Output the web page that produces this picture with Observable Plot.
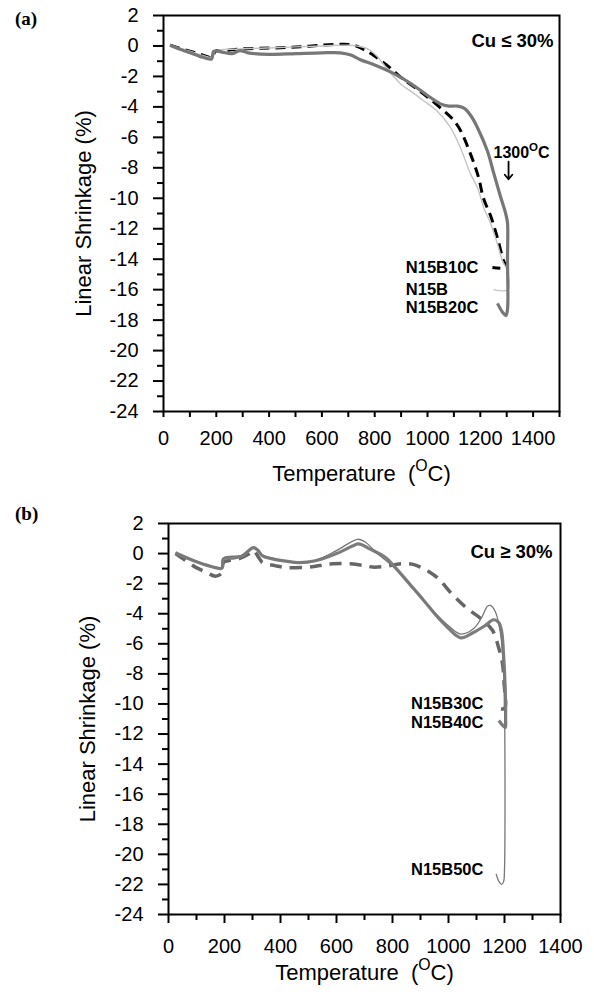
<!DOCTYPE html>
<html><head><meta charset="utf-8">
<script src="https://cdn.jsdelivr.net/npm/d3@7"></script>
<script src="https://cdn.jsdelivr.net/npm/@observablehq/plot@0.6"></script>
<style>
body{margin:0;background:#fff;}
#wrap{position:relative;width:594px;height:1001px;background:#fff;}
.panel{position:absolute;left:0;}
.panel text{font-family:"Liberation Sans",Arial,sans-serif;}
.tag{position:absolute;left:15px;font-family:"Liberation Serif","Times New Roman",serif;font-weight:bold;font-size:19px;line-height:1;}
</style></head><body><div id="wrap"></div>
<script>
// ---------- data: panel (a) Cu <= 30% ----------
const seriesA = ["N15B10C", "N15B", "N15B20C"];
const A_N15B10C = [[25,0.05],[60,-0.15],[100,-0.35],[140,-0.55],[175,-0.75],[188,-0.75],[195,-0.35],[230,-0.3],[290,-0.2],[360,-0.15],[443,-0.12],[520,-0.05],[600,0.05],[660,0.1],[700,0.1],[730,0.0],[760,-0.25],[790,-0.55],[822,-0.95],[860,-1.45],[898,-2.05],[950,-2.7],[1000,-3.35],[1061,-4.25],[1095,-4.8],[1125,-5.55],[1163,-7.1],[1193,-8.6],[1212,-10.0],[1240,-11.2],[1265,-12.6],[1288,-14.1],[1300,-14.55],[1246,-14.55]];
const A_N15B = [[25,0.05],[100,-0.35],[175,-0.75],[188,-0.75],[195,-0.35],[290,-0.2],[443,-0.1],[600,0.0],[700,0.05],[760,-0.1],[784,-0.3],[810,-0.7],[840,-1.35],[871,-2.0],[905,-2.6],[947,-3.1],[985,-3.6],[1038,-4.3],[1087,-5.35],[1125,-6.7],[1163,-8.4],[1189,-9.3],[1215,-10.7],[1239,-11.65],[1265,-13.0],[1284,-14.1],[1303,-14.8],[1303,-16.0],[1250,-16.0]];
const A_N15B20C = [[25,0.05],[60,-0.2],[100,-0.45],[140,-0.7],[170,-0.85],[182,-0.85],[186,-0.6],[190,-0.35],[220,-0.4],[260,-0.5],[290,-0.3],[320,-0.45],[400,-0.55],[500,-0.5],[600,-0.45],[670,-0.45],[710,-0.6],[746,-0.9],[800,-1.25],[871,-1.8],[940,-2.5],[1000,-3.25],[1049,-3.8],[1080,-3.95],[1114,-3.95],[1140,-4.1],[1165,-4.6],[1189,-5.35],[1227,-6.9],[1250,-8.3],[1275,-9.8],[1296,-11.0],[1303,-11.6],[1303,-14.0],[1303,-17.3],[1297,-17.7],[1285,-17.5],[1265,-16.9]];

// ---------- data: panel (b) Cu >= 30% ----------
const seriesB = ["N15B30C", "N15B40C", "N15B50C"];
const B_N15B30C = [[25,0],[60,-0.45],[96,-0.9],[130,-1.2],[168,-1.5],[190,-1.3],[196,-0.6],[220,-0.45],[250,-0.35],[290,0.0],[304,0.2],[320,-0.2],[336,-0.6],[380,-0.8],[418,-0.92],[490,-0.92],[540,-0.8],[586,-0.68],[650,-0.68],[700,-0.8],[729,-0.9],[775,-0.85],[829,-0.68],[870,-0.7],[900,-0.9],[930,-1.2],[960,-1.6],[1018,-2.8],[1068,-3.67],[1114,-4.3],[1157,-5.1],[1179,-6.25],[1193,-7.35],[1198,-8.5],[1200,-10.3],[1180,-10.3]];
const B_N15B40C = [[25,0.05],[107,-0.6],[186,-1.0],[192,-0.95],[196,-0.35],[230,-0.3],[264,-0.15],[290,0.25],[304,0.4],[320,0.2],[336,-0.15],[371,-0.35],[420,-0.5],[464,-0.6],[525,-0.48],[600,0.0],[657,0.5],[679,0.65],[720,0.3],[775,-0.26],[804,-0.8],[860,-2.0],[911,-3.1],[960,-4.2],[996,-4.9],[1043,-5.6],[1089,-5.25],[1130,-4.8],[1161,-4.4],[1180,-4.6],[1190,-5.2],[1196,-6.5],[1202,-8.7],[1204,-11.0],[1203,-11.55],[1195,-11.45],[1180,-11.1]];
const B_N15B50C = [[25,0.05],[107,-0.55],[186,-0.95],[192,-0.9],[196,-0.3],[264,-0.1],[304,0.45],[336,-0.1],[371,-0.3],[464,-0.6],[525,-0.45],[600,0.2],[675,0.95],[700,0.8],[746,0.0],[804,-0.9],[860,-2.0],[911,-3.1],[960,-4.1],[1000,-4.8],[1043,-5.35],[1089,-5.0],[1120,-4.2],[1139,-3.5],[1150,-3.45],[1168,-3.9],[1186,-5.35],[1196,-7.6],[1200,-10.0],[1200,-21.0],[1197,-21.8],[1190,-22.0],[1180,-21.8],[1170,-21.3]];

// ---------- ticks ----------
const yMajor = [-24,-22,-20,-18,-16,-14,-12,-10,-8,-6,-4,-2,0,2];
const yMinor = [-23,-21,-19,-17,-15,-13,-11,-9,-7,-5,-3,-1,1];
const xMajor = [0,200,400,600,800,1000,1200,1400];
const xMinorA = [100,300,500,700,900,1100,1300,1500];
const xMinorB = [100,300,500,700,900,1100,1300];

const FONT = "Liberation Sans, Arial, sans-serif";

function sup(svg, fs) {
  d3.select(svg).selectAll("text").each(function () {
    const t = this.textContent;
    if (!t.includes("^")) return;
    const [a, b, c] = t.split("^");
    const sel = d3.select(this);
    sel.text(null);
    sel.append("tspan").text(a);
    sel.append("tspan").attr("dy", -0.42 * fs).attr("font-size", 0.72 * fs).text(b);
    sel.append("tspan").attr("dy", 0.42 * fs).text(c);
  });
}

function panel(cfg) {
  const X = d => d[0], Y = d => d[1];
  const marks = [
    Plot.axisY(yMajor, {tickSize: 10, tickPadding: 15, tickFormat: d => String(d), label: null, strokeWidth: 2, fontSize: 20}),
    Plot.axisY(yMinor, {tickSize: 6, text: null, label: null, strokeWidth: 2}),
    Plot.axisX(xMajor, {tickSize: cfg.xTick, tickPadding: cfg.xPad, tickFormat: d => String(d), label: null, strokeWidth: 2, fontSize: 20}),
    Plot.axisX(cfg.xMinor, {tickSize: cfg.xTickMinor, text: null, label: null, strokeWidth: 2}),
    Plot.frame({stroke: "#000", strokeWidth: 2}),
    Plot.text(["Linear Shrinkage (%)"], {text: d => d, frameAnchor: "left", dx: cfg.yLabelDx, rotate: -90, textAnchor: "middle", lineAnchor: "middle", fontSize: 22}),
    Plot.text(["Temperature\u00a0 (^O^C)"], {text: d => d, frameAnchor: "bottom", dy: cfg.xLabelDy, textAnchor: "middle", lineAnchor: "middle", fontSize: 22}),
  ];
  for (const s of cfg.series) {
    marks.push(Plot.line(s.data, {x: X, y: Y, stroke: s.stroke, strokeWidth: s.width, strokeDasharray: s.dash, curve: "catmull-rom", strokeLinecap: "butt"}));
  }
  for (const s of cfg.series) {
    const last = s.data[s.data.length - 1];
    marks.push(Plot.text([s.name], {text: d => d, x: cfg.labelX, y: last[1] + (s.ldy || 0), textAnchor: "start", fontWeight: "bold", fontSize: 16.5, fill: "#000"}));
  }
  marks.push(...cfg.extra);
  const svg = Plot.plot({
    width: 594, height: cfg.height,
    marginTop: cfg.mt, marginBottom: cfg.mb, marginLeft: cfg.ml, marginRight: cfg.mr,
    x: {domain: [0, cfg.xmax]}, y: {domain: [-24, 2]},
    style: {fontFamily: FONT, fontSize: "20px", color: "#000", background: "#fff", overflow: "visible"},
    marks
  });
  svg.classList.add("panel");
  svg.style.top = cfg.top + "px";
  sup(svg, 22);
  return svg;
}

const wrap = document.getElementById("wrap");

const svgA = panel({
  top: 0, height: 500, mt: 15, mb: 89, ml: 163, mr: 35, xmax: 1500,
  xMinor: xMinorA, xTick: 6, xTickMinor: 6, xPad: 13, yLabelDx: -80, xLabelDy: 62,
  labelX: 918,
  series: [
    {name: seriesA[0], data: A_N15B10C, stroke: "#000", width: 3, dash: "10,6"},
    {name: seriesA[1], data: A_N15B, stroke: "#c4c4c4", width: 1.4},
    {name: seriesA[2], data: A_N15B20C, stroke: "#777", width: 3.2, ldy: -0.3},
  ],
  extra: [
    Plot.text(["Cu \u2264 30%"], {text: d => d, frameAnchor: "top-right", dx: -6, dy: 18, textAnchor: "end", fontWeight: "bold", fontSize: 18.5}),
    Plot.text(["1300^O^C"], {text: d => d, x: 1250, y: -7.0, textAnchor: "start", fontWeight: "bold", fontSize: 16}),
    Plot.arrow([0], {x1: 1307, x2: 1307, y1: -7.6, y2: -8.75, stroke: "#000", strokeWidth: 1.8, headLength: 9, headAngle: 80, bend: 0})
  ]
});
wrap.appendChild(svgA);

const svgB = panel({
  top: 500, height: 501, mt: 23, mb: 87, ml: 168, mr: 34, xmax: 1400,
  xMinor: xMinorB, xTick: 9, xTickMinor: 6, xPad: 15, yLabelDx: -81, xLabelDy: 58,
  labelX: 866,
  series: [
    {name: seriesB[0], data: B_N15B30C, stroke: "#666", width: 3.5, dash: "12,8", ldy: 0.3},
    {name: seriesB[1], data: B_N15B40C, stroke: "#7d7d7d", width: 3.2, ldy: -0.15},
    {name: seriesB[2], data: B_N15B50C, stroke: "#777", width: 1.3, ldy: 0.3},
  ],
  extra: [
    Plot.text(["Cu \u2265 30%"], {text: d => d, frameAnchor: "top-right", dx: -8, dy: 21, textAnchor: "end", fontWeight: "bold", fontSize: 18.5}),
  ]
});
wrap.appendChild(svgB);

// the 1300oC annotation uses a 16px font: rescale its superscript
d3.select(svgA).selectAll("text").each(function () {
  if (this.textContent === "1300OC") {
    const ts = d3.select(this).selectAll("tspan").nodes();
    d3.select(ts[1]).attr("dy", -0.42 * 16).attr("font-size", 0.72 * 16);
    d3.select(ts[2]).attr("dy", 0.42 * 16);
  }
});

const ta = document.createElement("div"); ta.className = "tag"; ta.style.top = "9px"; ta.textContent = "(a)"; wrap.appendChild(ta);
const tb = document.createElement("div"); tb.className = "tag"; tb.style.top = "504px"; tb.textContent = "(b)"; wrap.appendChild(tb);
</script></body></html>
